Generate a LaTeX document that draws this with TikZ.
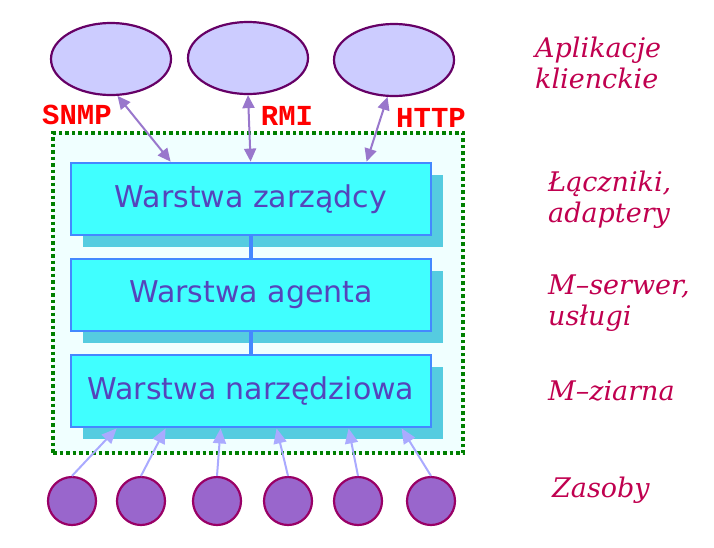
\documentclass[tikz,border=0pt]{standalone}
\usepackage{fontspec}
\setmainfont{DejaVu Sans}
\newfontfamily\protofont{Liberation Mono}
\newfontfamily\notefont{DejaVu Serif}
\usetikzlibrary{arrows.meta, positioning, shapes.geometric, shadows}

\definecolor{appFill}{HTML}{CCCCFF}
\definecolor{appBorder}{HTML}{660066}
\definecolor{protoRed}{HTML}{FF0000}
\definecolor{apiArrowC}{HTML}{9977CC}
\definecolor{frameGreen}{HTML}{008000}
\definecolor{frameFill}{HTML}{F0FFFF}
\definecolor{layerFill}{HTML}{40FFFF}
\definecolor{layerBorder}{HTML}{4488FF}
\definecolor{layerShadow}{HTML}{55CCE0}
\definecolor{layerText}{HTML}{5544BB}
\definecolor{resFill}{HTML}{9966CC}
\definecolor{resBorder}{HTML}{990066}
\definecolor{feedC}{HTML}{AAAAFF}
\definecolor{noteC}{HTML}{C0004F}

\begin{document}
\begin{tikzpicture}[
  x=1pt, y=-1pt,
  app/.style={
    ellipse, draw=appBorder, line width=2.2pt, fill=appFill,
    minimum width=120pt, minimum height=72pt
  },
  proto/.style={font=\protofont\bfseries\fontsize{29}{31}\selectfont, text=protoRed, inner sep=0pt},
  apiLink/.style={
    draw=apiArrowC, line width=2pt,
    {Triangle[length=13pt, width=12pt]}-{Triangle[length=13pt, width=12pt]}
  },
  frameBox/.style={
    draw=frameGreen, fill=frameFill, line width=3.5pt, dash pattern=on 3.5pt off 3pt,
    minimum width=410pt, minimum height=320pt
  },
  layer/.style={
    draw=layerBorder, line width=2.8pt, fill=layerFill,
    minimum width=360pt, minimum height=72pt,
    text=layerText, font=\fontsize{30}{34}\selectfont,
    drop shadow={shadow xshift=12pt, shadow yshift=-12pt, fill=layerShadow, opacity=1}
  },
  layerLink/.style={draw=layerBorder, line width=4.5pt},
  res/.style={
    circle, draw=resBorder, line width=2.2pt, fill=resFill, minimum size=48pt
  },
  feed/.style={draw=feedC, line width=2pt, -{Triangle[length=15pt, width=13pt]}},
  note/.style={
    font=\notefont\itshape\fontsize{27}{31}\selectfont, text=noteC,
    align=left, inner sep=0pt
  }
]
\useasboundingbox (0,0) rectangle (714,547);

\node[frameBox] (frame) at (258,293) {};

\node[app] (app1) at (111,59) {};
\node[app] (app2) at (248,58) {};
\node[app] (app3) at (394,60) {};

\node[proto] (snmp) at (77,115) {SNMP};
\node[proto] (rmi) at (287,116) {RMI};
\node[proto] (http) at (431,118) {HTTP};

\node[layer] (mgr) at (251,199) {Warstwa zarządcy};
\node[layer] (agent) at (251,295) {Warstwa agenta};
\node[layer] (tool) at (251,391) {Warstwa narzędziowa};

\draw[layerLink] (mgr.south) -- (agent.north);
\draw[layerLink] (agent.south) -- (tool.north);

\draw[apiLink] (app1.-80) -- ([xshift=101pt]mgr.north west);
\draw[apiLink] (app2.south) -- ([xshift=181pt]mgr.north west);
\draw[apiLink] (app3.-100) -- ([xshift=297pt]mgr.north west);

\foreach \x [count=\i] in {72,141,217,288,358,431}
  \node[res] (res\i) at (\x,501) {};

\foreach \i/\dx in {1/47,2/96,3/151,4/207,5/279,6/332}
  \draw[feed] (res\i.north) -- ([xshift=\dx pt]tool.south west);

\node[note, anchor=base west] (apps) at (535,88) {Aplikacje\\klienckie};
\node[note, anchor=base west] (adapt) at (548,222) {Łączniki,\\adaptery};
\node[note, anchor=base west] (server) at (548,325) {M–serwer,\\usługi};
\node[note, anchor=base west] (beans) at (548,400) {M–ziarna};
\node[note, anchor=base west] (rsrc) at (552,497) {Zasoby};
\end{tikzpicture}
\end{document}
